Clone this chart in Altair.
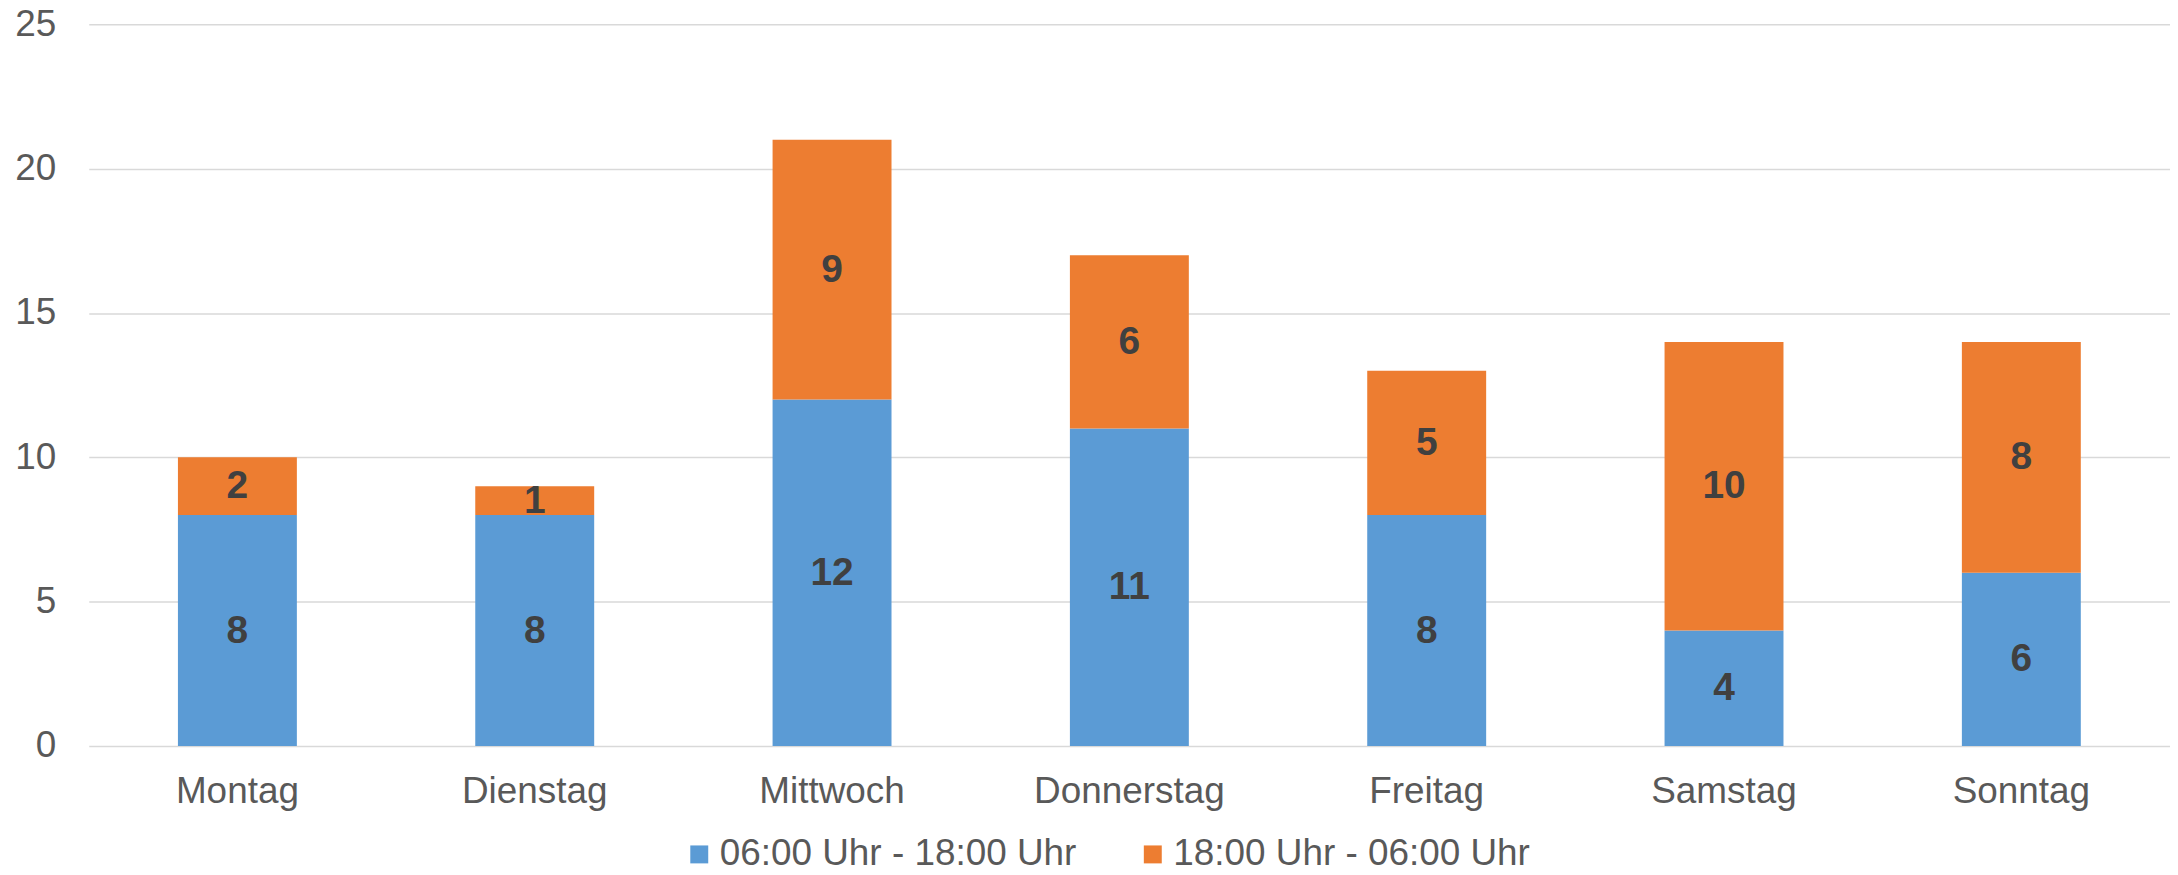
import altair as alt
import pandas as pd

days = ["Montag", "Dienstag", "Mittwoch", "Donnerstag", "Freitag", "Samstag", "Sonntag"]
series = ["06:00 Uhr - 18:00 Uhr", "18:00 Uhr - 06:00 Uhr"]
day_values = [8, 8, 12, 11, 8, 4, 6]
night_values = [2, 1, 9, 6, 5, 10, 8]
colors = ["#5B9BD5", "#ED7D31"]

rows = []
for d, a, b in zip(days, day_values, night_values):
    rows.append({"day": d, "series": series[0], "order": 0, "value": a})
    rows.append({"day": d, "series": series[1], "order": 1, "value": b})
df = pd.DataFrame(rows)

FONT = "Liberation Sans"

base = alt.Chart(df).transform_stack(
    stack="value", as_=["v0", "v1"], groupby=["day"],
    sort=[alt.SortField("order", order="ascending")]
).transform_calculate(mid="(datum.v0 + datum.v1) / 2")

xenc = alt.X("day:N", sort=days, title=None,
             scale=alt.Scale(paddingInner=0.6, paddingOuter=0.3),
             axis=alt.Axis(labelAngle=0, labelFont=FONT, labelFontSize=37,
                           labelColor="#595959", ticks=False, tickSize=0,
                           domain=False, labelPadding=28, grid=False,
                           labelLimit=600))

bars = base.mark_bar().encode(
    x=xenc,
    y=alt.Y("v0:Q", title=None,
            scale=alt.Scale(domain=[0, 25], nice=False),
            axis=alt.Axis(values=[0, 5, 10, 15, 20, 25], labelFont=FONT,
                          labelFontSize=37, labelColor="#595959", ticks=False,
                          tickSize=0, domain=False, labelPadding=33,
                          grid=True, gridColor="#D9D9D9", gridWidth=1.5)),
    y2="v1:Q",
    color=alt.Color("series:N", scale=alt.Scale(domain=series, range=colors),
                    legend=alt.Legend(title=None, orient="none", direction="horizontal",
                                      legendX=594, legendY=814,
                                      symbolType="square", symbolSize=324,
                                      symbolStrokeWidth=0, labelFont=FONT,
                                      labelFontSize=37, labelColor="#595959",
                                      labelOffset=2, columnPadding=58,
                                      labelLimit=600)),
)

labels = base.mark_text(font=FONT, fontSize=39, fontWeight="bold",
                        color="#404040", baseline="middle").encode(
    x=alt.X("day:N", sort=days),
    y=alt.Y("mid:Q"),
    text=alt.Text("value:Q"),
)

chart = alt.layer(bars, labels).properties(
    width=2088, height=724,
    autosize=alt.AutoSizeParams(type="none"),
    padding={"left": 81, "top": 15, "right": 0, "bottom": 126},
).configure_view(stroke=None)

chart.save("out.html", embed_options={"renderer": "svg", "actions": False})
